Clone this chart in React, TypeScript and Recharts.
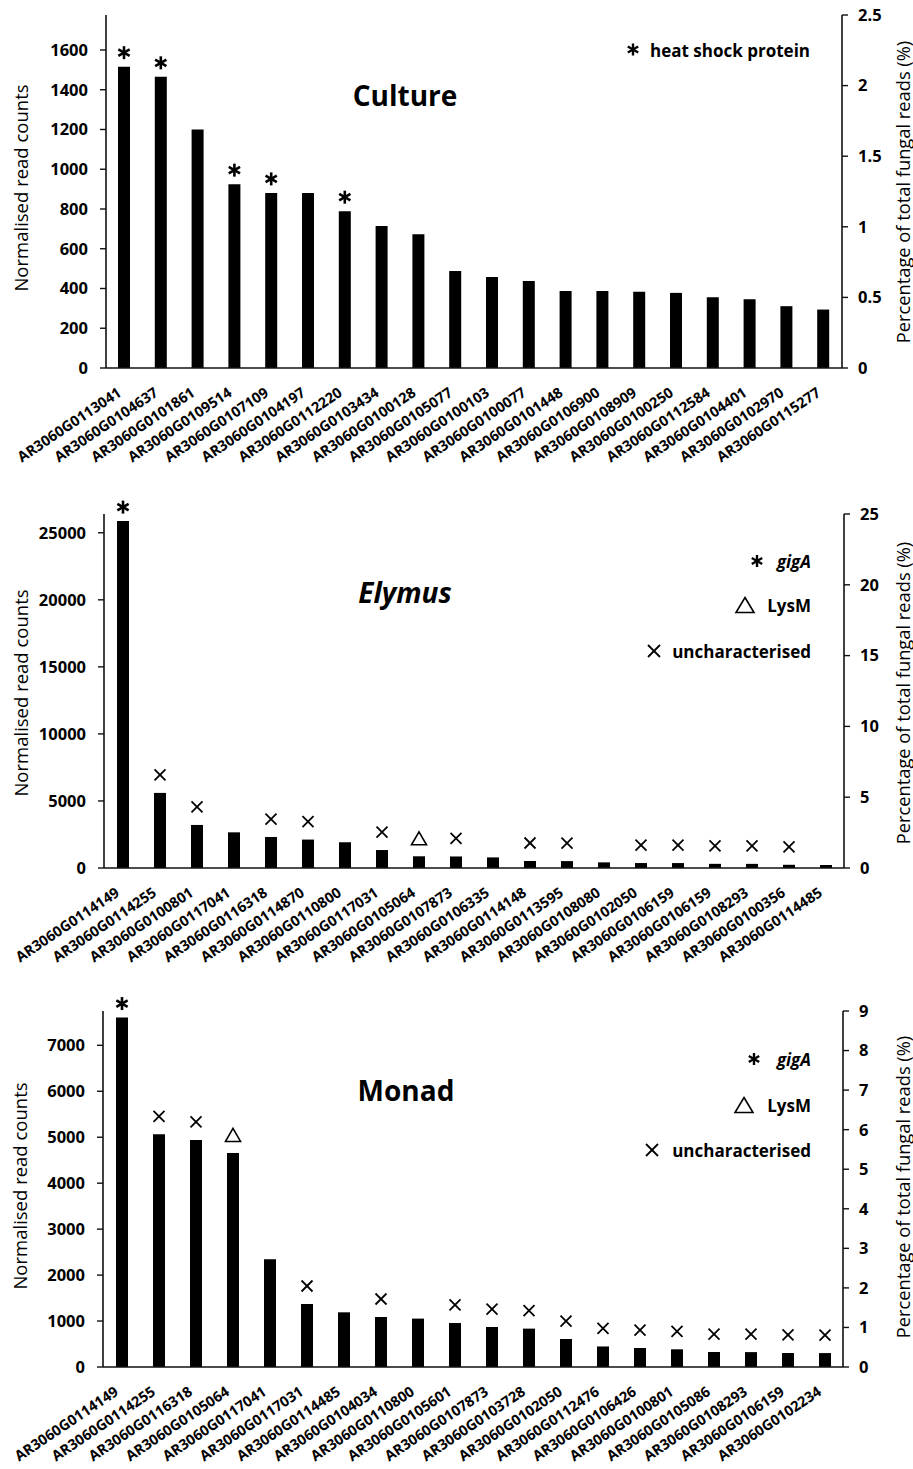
import React from 'react';
import { ComposedChart, Bar, Line, XAxis, YAxis, LabelList } from 'recharts';

const FONT = '"Open Sans", "DejaVu Sans", sans-serif';

// ---------- Culture ----------
const cultureGenes = [
  'AR3060G0113041', 'AR3060G0104637', 'AR3060G0101861', 'AR3060G0109514', 'AR3060G0107109',
  'AR3060G0104197', 'AR3060G0112220', 'AR3060G0103434', 'AR3060G0100128', 'AR3060G0105077',
  'AR3060G0100103', 'AR3060G0100077', 'AR3060G0101448', 'AR3060G0106900', 'AR3060G0108909',
  'AR3060G0100250', 'AR3060G0112584', 'AR3060G0104401', 'AR3060G0102970', 'AR3060G0115277',
];
const cultureCounts = [1516, 1465, 1200, 925, 881, 880, 789, 715, 673, 488, 458, 438, 388, 387, 383, 378, 356, 346, 311, 294];
const cultureMarks = ['star', 'star', '', 'star', 'star', '', 'star', '', '', '', '', '', '', '', '', '', '', '', '', ''];
const cultureLeftTicks = [0, 200, 400, 600, 800, 1000, 1200, 1400, 1600];
const cultureRightTicks = [0, 0.5, 1, 1.5, 2, 2.5];
const cultureLeftMax = 1776;

// ---------- Elymus ----------
const elymusGenes = [
  'AR3060G0114149', 'AR3060G0114255', 'AR3060G0100801', 'AR3060G0117041', 'AR3060G0116318',
  'AR3060G0114870', 'AR3060G0110800', 'AR3060G0117031', 'AR3060G0105064', 'AR3060G0107873',
  'AR3060G0106335', 'AR3060G0114148', 'AR3060G0113595', 'AR3060G0108080', 'AR3060G0102050',
  'AR3060G0106159', 'AR3060G0106159', 'AR3060G0108293', 'AR3060G0100356', 'AR3060G0114485',
];
const elymusCounts = [25870, 5600, 3210, 2660, 2310, 2120, 1920, 1340, 873, 860, 790, 522, 515, 420, 370, 368, 310, 308, 240, 225];
const elymusMarks = ['star', 'cross', 'cross', '', 'cross', 'cross', '', 'cross', 'tri', 'cross', '', 'cross', 'cross', '', 'cross', 'cross', 'cross', 'cross', 'cross', ''];
const elymusLeftTicks = [0, 5000, 10000, 15000, 20000, 25000];
const elymusRightTicks = [0, 5, 10, 15, 20, 25];
const elymusLeftMax = 26400;

// ---------- Monad ----------
const monadGenes = [
  'AR3060G0114149', 'AR3060G0114255', 'AR3060G0116318', 'AR3060G0105064', 'AR3060G0117041',
  'AR3060G0117031', 'AR3060G0114485', 'AR3060G0104034', 'AR3060G0110800', 'AR3060G0105601',
  'AR3060G0107873', 'AR3060G0103728', 'AR3060G0102050', 'AR3060G0112476', 'AR3060G0106426',
  'AR3060G0100801', 'AR3060G0105086', 'AR3060G0108293', 'AR3060G0106159', 'AR3060G0102234',
];
const monadCounts = [7604, 5064, 4941, 4658, 2344, 1371, 1190, 1088, 1053, 958, 870, 835, 609, 447, 413, 385, 326, 324, 305, 303];
const monadMarks = ['star', 'cross', 'cross', 'tri', '', 'cross', '', 'cross', '', 'cross', 'cross', 'cross', 'cross', 'cross', 'cross', 'cross', 'cross', 'cross', 'cross', 'cross'];
const monadLeftTicks = [0, 1000, 2000, 3000, 4000, 5000, 6000, 7000];
const monadRightTicks = [0, 1, 2, 3, 4, 5, 6, 7, 8, 9];
const monadLeftMax = 7747;

const LEFT_TITLE = 'Normalised read counts';
const RIGHT_TITLE = 'Percentage of total fungal reads (%)';

const buildRows = (genes: string[], counts: number[], marks: string[]) =>
  genes.map((g, i) => ({ gene: g, count: counts[i], mark: marks[i] }));

// ---------- symbols ----------
const Star = ({ cx, cy, r = 6.5, sw = 2.6 }: any) => {
  const lines = [90, 30, 150].map((a) => {
    const rad = (a * Math.PI) / 180;
    const dx = Math.cos(rad) * r;
    const dy = Math.sin(rad) * r;
    return <line key={a} x1={cx - dx} y1={cy - dy} x2={cx + dx} y2={cy + dy} stroke="#000" strokeWidth={sw} />;
  });
  return <g>{lines}</g>;
};
const Cross = ({ cx, cy, r = 5.5, sw = 1.8 }: any) => (
  <g>
    <line x1={cx - r} y1={cy - r} x2={cx + r} y2={cy + r} stroke="#000" strokeWidth={sw} />
    <line x1={cx - r} y1={cy + r} x2={cx + r} y2={cy - r} stroke="#000" strokeWidth={sw} />
  </g>
);
const Tri = ({ cx, cy, w = 15, h = 13, sw = 1.6 }: any) => (
  <polygon
    points={`${cx},${cy - h / 2} ${cx + w / 2},${cy + h / 2} ${cx - w / 2},${cy + h / 2}`}
    fill="none"
    stroke="#000"
    strokeWidth={sw}
  />
);

const renderMark = (props: any) => {
  const { x, y, width, value } = props;
  const cx = Number(x) + Number(width) / 2;
  const top = Number(y);
  if (value === 'star') return <Star cx={cx} cy={top - 14} />;
  if (value === 'cross') return <Cross cx={cx} cy={top - 18} />;
  if (value === 'tri') return <Tri cx={cx} cy={top - 18} />;
  return null;
};

const XTick = (props: any) => {
  const { x, y, payload } = props;
  const ax = Number(x) - 2;
  const ay = Number(y) + 27;
  return (
    <text
      x={ax}
      y={ay}
      transform={`rotate(-34, ${ax}, ${ay})`}
      textAnchor="end"
      fontFamily={FONT}
      fontWeight={700}
      fontSize={14.5}
      fill="#000"
    >
      {payload.value}
    </text>
  );
};

const tickStyle = { fontFamily: FONT, fontWeight: 700, fontSize: 16.5, fill: '#000' };

type PanelProps = {
  top: number;
  plotTop: number;
  plotBottom: number;
  plotLeft: number;
  plotRight: number;
  rows: any[];
  leftMax: number;
  leftTicks: number[];
  rightMax: number;
  rightTicks: number[];
};

const W = 913;
const AXW = 60;

const Panel = ({ top, plotTop, plotBottom, plotLeft, plotRight, rows, leftMax, leftTicks, rightMax, rightTicks }: PanelProps) => {
  const xAxisH = 115;
  const height = plotBottom - top + xAxisH;
  return (
    <div style={{ position: 'absolute', left: 0, top }}>
      <ComposedChart
        width={W}
        height={height}
        data={rows}
        margin={{ top: plotTop - top, right: W - plotRight - AXW, left: plotLeft - AXW, bottom: 0 }}
        barCategoryGap={0}
      >
        <XAxis
          dataKey="gene"
          interval={0}
          height={xAxisH}
          tickLine={false}
          tickSize={0}
          tickMargin={0}
          axisLine={{ stroke: '#111', strokeWidth: 1.6 }}
          tick={<XTick />}
        />
        <YAxis
          yAxisId="left"
          orientation="left"
          width={AXW}
          domain={[0, leftMax]}
          ticks={leftTicks}
          interval={0}
          tickSize={6}
          tickMargin={12}
          axisLine={{ stroke: '#111', strokeWidth: 1.6 }}
          tickLine={{ stroke: '#111', strokeWidth: 1.4 }}
          tick={tickStyle}
        />
        <YAxis
          yAxisId="right"
          orientation="right"
          width={AXW}
          type="number"
          domain={[0, rightMax]}
          allowDataOverflow
          ticks={rightTicks}
          interval={0}
          tickSize={6}
          tickMargin={10}
          axisLine={{ stroke: '#111', strokeWidth: 1.6 }}
          tickLine={{ stroke: '#111', strokeWidth: 1.4 }}
          tick={tickStyle}
        />
        <Bar yAxisId="left" dataKey="count" fill="#000" barSize={12} isAnimationActive={false}>
          <LabelList dataKey="mark" content={renderMark} />
        </Bar>
        {/* invisible series that only binds the secondary (percentage) axis */}
        <Line
          yAxisId="right"
          dataKey="count"
          stroke="none"
          strokeOpacity={0}
          dot={false}
          activeDot={false}
          legendType="none"
          isAnimationActive={false}
        />
      </ComposedChart>
    </div>
  );
};

const Legend3 = ({ starY, triY, crossY, starX, triX, crossX }: any) => (
  <g fontFamily={FONT} fontWeight={700} fontSize={17} fill="#000">
    <Star cx={starX} cy={starY} r={6} sw={2.4} />
    <text x={811} y={starY} textAnchor="end" dominantBaseline="central" fontStyle="italic">gigA</text>
    <Tri cx={triX} cy={triY} w={18} h={15} sw={1.6} />
    <text x={811} y={triY} textAnchor="end" dominantBaseline="central">LysM</text>
    <Cross cx={crossX} cy={crossY} r={6} sw={1.8} />
    <text x={811} y={crossY} textAnchor="end" dominantBaseline="central">uncharacterised</text>
  </g>
);

const AxisTitles = ({ lx, ly, rx, ry }: any) => (
  <g fontFamily={FONT} fill="#000">
    <text x={lx} y={ly} transform={`rotate(-90, ${lx}, ${ly})`} textAnchor="middle" dominantBaseline="central" fontSize={18.5}>
      {LEFT_TITLE}
    </text>
    <text x={rx} y={ry} transform={`rotate(-90, ${rx}, ${ry})`} textAnchor="middle" dominantBaseline="central" fontSize={18.3}>
      {RIGHT_TITLE}
    </text>
  </g>
);

export default function App() {
  return (
    <div style={{ position: 'absolute', left: 0, top: 0, width: W, height: 1469, background: '#fff', overflow: 'hidden' }}>
      <Panel
        top={0}
        plotTop={15}
        plotBottom={368}
        plotLeft={106}
        plotRight={842}
        rows={buildRows(cultureGenes, cultureCounts, cultureMarks)}
        leftMax={cultureLeftMax}
        leftTicks={cultureLeftTicks}
        rightMax={2.5}
        rightTicks={cultureRightTicks}
      />
      <Panel
        top={497}
        plotTop={514}
        plotBottom={868}
        plotLeft={104}
        plotRight={844}
        rows={buildRows(elymusGenes, elymusCounts, elymusMarks)}
        leftMax={elymusLeftMax}
        leftTicks={elymusLeftTicks}
        rightMax={25}
        rightTicks={elymusRightTicks}
      />
      <Panel
        top={995}
        plotTop={1011}
        plotBottom={1367}
        plotLeft={103}
        plotRight={843}
        rows={buildRows(monadGenes, monadCounts, monadMarks)}
        leftMax={monadLeftMax}
        leftTicks={monadLeftTicks}
        rightMax={9}
        rightTicks={monadRightTicks}
      />
      <svg width={W} height={1469} style={{ position: 'absolute', left: 0, top: 0, pointerEvents: 'none' }}>
        {/* Culture */}
        <AxisTitles lx={20} ly={188} rx={902} ry={192} />
        <text x={405} y={95} textAnchor="middle" dominantBaseline="central" fontFamily={FONT} fontWeight={700} fontSize={28}>Culture</text>
        <Star cx={633} cy={49.5} r={6} sw={2.4} />
        <text x={810} y={50} textAnchor="end" dominantBaseline="central" fontFamily={FONT} fontWeight={700} fontSize={17}>heat shock protein</text>
        {/* Elymus */}
        <AxisTitles lx={20} ly={693} rx={902} ry={693} />
        <text x={405} y={592} textAnchor="middle" dominantBaseline="central" fontFamily={FONT} fontWeight={700} fontStyle="italic" fontSize={28}>Elymus</text>
        <Legend3 starX={757} starY={561} triX={745} triY={605} crossX={654} crossY={651} />
        {/* Monad */}
        <AxisTitles lx={19} ly={1186} rx={902} ry={1187} />
        <text x={406} y={1090} textAnchor="middle" dominantBaseline="central" fontFamily={FONT} fontWeight={700} fontSize={28}>Monad</text>
        <Legend3 starX={754} starY={1059} triX={744} triY={1105} crossX={652} crossY={1150} />
      </svg>
    </div>
  );
}
